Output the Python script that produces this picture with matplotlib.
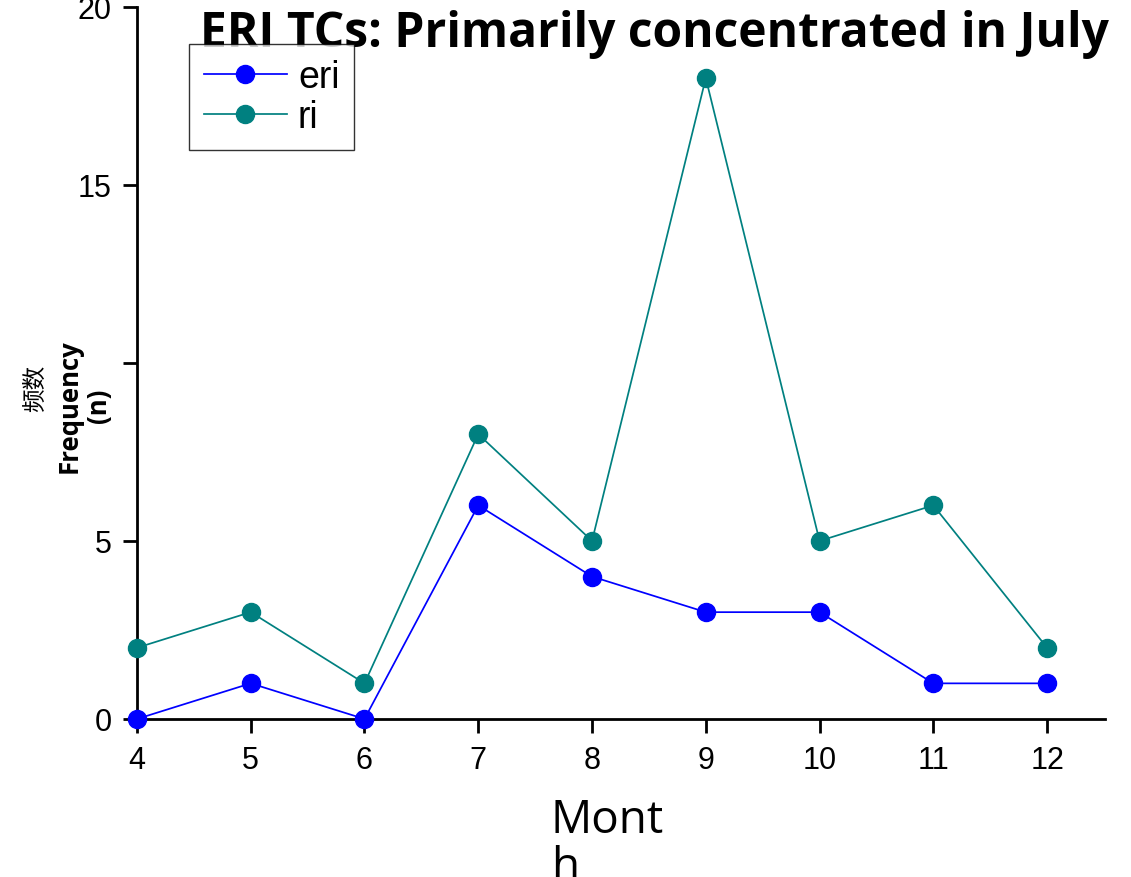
import matplotlib
matplotlib.use("Agg")
import matplotlib.pyplot as plt
from matplotlib.ticker import FixedLocator, FixedFormatter

months = [4, 5, 6, 7, 8, 9, 10, 11, 12]
eri_counts = [0, 1, 0, 6, 4, 3, 3, 1, 1]
ri_counts = [2, 3, 1, 8, 5, 18, 5, 6, 2]
y_ticks = [0, 5, 10, 15, 20]
y_tick_labels = ["0", "5", "", "15", "20"]

fig = plt.figure(figsize=(11.31, 8.78), dpi=100)
ax = fig.add_axes([0.1211, 0.180, 0.856, 0.811])

line_kw = dict(marker="o", markersize=13, linewidth=1.25, clip_on=False, zorder=3)
ax.plot(months, eri_counts, color="#0000ff", label="eri", **line_kw)
ax.plot(months, ri_counts, color="#008080", label="ri", **line_kw)

ax.set_xlim(4, 12.51)
ax.set_ylim(0, 20)
ax.set_xticks(months)
ax.yaxis.set_major_locator(FixedLocator(y_ticks))
ax.yaxis.set_major_formatter(FixedFormatter(y_tick_labels))

for side in ("top", "right"):
  ax.spines[side].set_visible(False)
for side in ("left", "bottom"):
  ax.spines[side].set_linewidth(2)
ax.tick_params(axis="both", direction="out", length=10, width=2, labelsize=22)
ax.tick_params(axis="x", pad=9)
ax.tick_params(axis="y", pad=8)
for lbl in ax.get_xticklabels() + ax.get_yticklabels():
  lbl.set_family("Liberation Sans")

ax.set_xlabel("Mont\nh", fontsize=33, family="Open Sans", multialignment="left",
              linespacing=1.05)
ax.xaxis.set_label_coords(0.486, -0.109)
ax.xaxis.label.set_va("top")

ax.set_ylabel("Frequency\n(n)", fontsize=18.5, fontweight="bold", family="Open Sans",
              linespacing=1.1)
ax.yaxis.set_label_coords(-0.026, 0.441)
ax.text(-0.105, 0.465, "频数", transform=ax.transAxes, rotation=90, fontsize=17,
        family=["Noto Sans CJK SC", "DejaVu Sans"], ha="center", va="center")

ax.text(1.004, 0.962, "ERI TCs: Primarily concentrated in July",
        transform=ax.transAxes, ha="right", va="center", fontsize=34.6,
        fontweight="bold", family="Open Sans", zorder=5)

leg = ax.legend(loc="upper left", bbox_to_anchor=(0.054, 0.948),
                prop={"family": "Liberation Sans", "size": 27},
                frameon=True, fancybox=False, edgecolor="black",
                handlelength=2.2, handletextpad=0.3, borderpad=0.4,
                labelspacing=0.12, borderaxespad=0)
leg.get_frame().set_linewidth(1)

fig.savefig("out.png", dpi=100)
